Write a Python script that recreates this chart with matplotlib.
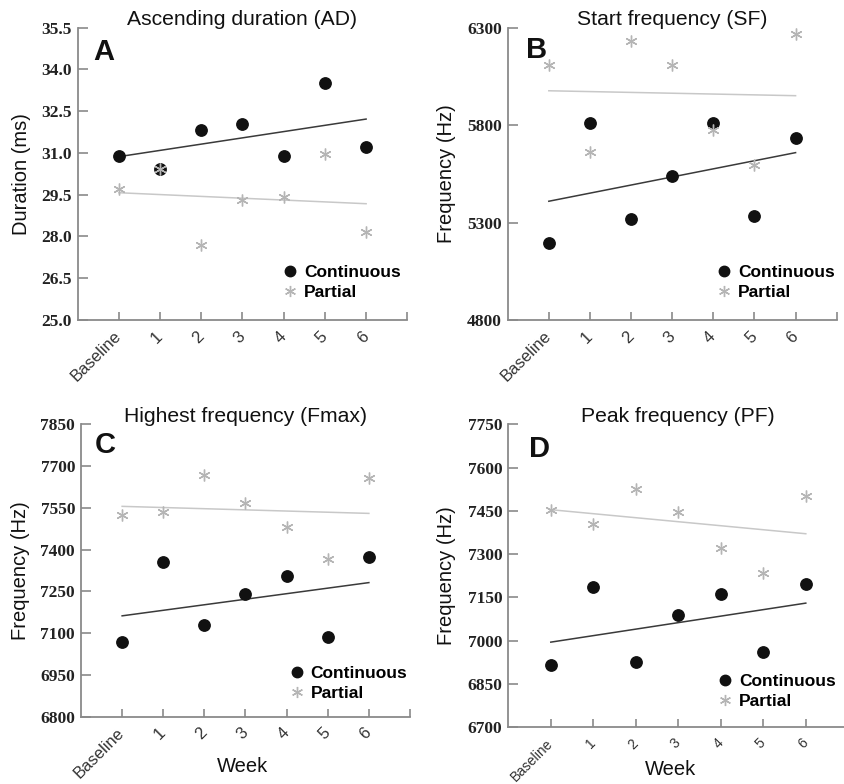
import numpy as np
import matplotlib
matplotlib.use("Agg")
import matplotlib.pyplot as plt
from matplotlib.lines import Line2D
from matplotlib.transforms import ScaledTranslation

plt.rcParams['font.family'] = ['Liberation Sans', 'DejaVu Sans']

weeks = np.arange(7)
week_labels = ['Baseline', '1', '2', '3', '4', '5', '6']

# Panel A: Ascending duration (ms)
ad_cont = [30.89, 30.42, 31.81, 32.04, 30.89, 33.52, 31.23]
ad_part = [29.69, 30.42, 27.69, 29.31, 29.41, 30.95, 28.15]
# Panel B: Start frequency (Hz)
sf_cont = [5193, 5809, 5318, 5539, 5813, 5335, 5732]
sf_part = [6107, 5664, 6232, 6107, 5775, 5595, 6266]
# Panel C: Highest frequency (Hz)
fmax_cont = [7067, 7354, 7129, 7239, 7305, 7087, 7372]
fmax_part = [7523, 7535, 7667, 7569, 7480, 7367, 7658]
# Panel D: Peak frequency (Hz)
pf_cont = [6916, 7185, 6928, 7089, 7162, 6962, 7197]
pf_part = [7453, 7403, 7525, 7445, 7323, 7236, 7502]

titles = ['Ascending duration (AD)', 'Start frequency (SF)',
          'Highest frequency (Fmax)', 'Peak frequency (PF)']
letters = ['A', 'B', 'C', 'D']
ylabels = ['Duration (ms)', 'Frequency (Hz)', 'Frequency (Hz)', 'Frequency (Hz)']
yticks_list = [np.arange(25.0, 35.51, 1.5), [4800, 5300, 5800, 6300],
               np.arange(6800, 7851, 150), np.arange(6700, 7751, 150)]
yfmt = ['{:.1f}', '{:d}', '{:d}', '{:d}']
conts = [ad_cont, sf_cont, fmax_cont, pf_cont]
parts = [ad_part, sf_part, fmax_part, pf_part]

W, H = 845, 784
fig = plt.figure(figsize=(W / 100, H / 100), dpi=100)

# pixel boxes: left, top, right, bottom
boxes = [(77.7, 27.7, 407.3, 320.0),
         (507.7, 27.7, 836.7, 320.0),
         (81.0, 424.3, 410.0, 716.7),
         (508.3, 424.3, 848.3, 727.3)]
letter_pos = [(0.046, 0.889), (0.056, 0.895), (0.043, 0.901), (0.062, 0.893)]
ylab_x = [-0.155, -0.168, -0.167, -0.166]
leg_pos = [(0.618, 0.127), (0.631, 0.127), (0.629, 0.114), (0.612, 0.119)]
week_pos = [None, None, (0.49, -0.189), (0.476, -0.157)]
xtick_size = [12, 12, 12, 10]
xtick_shift = [11, 11, 11, 9]

spine_col = '#8a8a8a'
cont_col = '#111111'
part_col = '#b5b5b5'
asterisk = (6, 2, 0)

for i in range(4):
    l, t, r, b = boxes[i]
    ax = fig.add_axes([l / W, 1 - b / H, (r - l) / W, (b - t) / H])
    yt = yticks_list[i]
    c = np.array(conts[i], dtype=float)
    p = np.array(parts[i], dtype=float)

    # regression lines
    for vals, col in ((c, '#3a3a3a'), (p, '#c8c8c8')):
        k, b0 = np.polyfit(weeks, vals, 1)
        ax.plot([weeks[0], weeks[-1]], [b0 + k * weeks[0], b0 + k * weeks[-1]],
                color=col, lw=1.1, zorder=2)

    ax.plot(weeks, c, 'o', color=cont_col, ms=8.2, zorder=3)
    ax.plot(weeks, p, linestyle='none', marker=asterisk, color=part_col,
            ms=8.5, mew=1.0, zorder=4)

    ax.set_xlim(-1, 7)
    ax.set_ylim(yt[0], yt[-1])
    ax.set_yticks(yt)
    ax.set_yticklabels([yfmt[i].format(v if i == 0 else int(v)) for v in yt],
                       family='Liberation Serif', weight='bold', fontsize=12.5,
                       color='#222222')
    ax.set_xticks(np.arange(8))
    ax.set_xticklabels(week_labels + [''], rotation=45, ha='right',
                       rotation_mode='anchor', va='center', fontsize=xtick_size[i],
                       color='#333333')
    off = ScaledTranslation(xtick_shift[i] / 100, 0, fig.dpi_scale_trans)
    for lab in ax.get_xticklabels():
        lab.set_transform(lab.get_transform() + off)

    for s in ('top', 'right'):
        ax.spines[s].set_visible(False)
    for s in ('left', 'bottom'):
        ax.spines[s].set_color(spine_col)
        ax.spines[s].set_linewidth(1.3)
    ax.tick_params(axis='y', direction='in', length=7, width=1.2,
                   color=spine_col, pad=4.3)
    ax.tick_params(axis='x', direction='in', length=6, width=1.2,
                   color=spine_col, pad=10)

    ax.text(0.5, 1.009, titles[i], transform=ax.transAxes, ha='center',
            va='baseline', fontsize=15.2, color='#111111')
    ax.text(letter_pos[i][0], letter_pos[i][1], letters[i], transform=ax.transAxes,
            ha='left', va='baseline', fontsize=21, fontweight='bold', color='#111111')
    ax.text(ylab_x[i], 0.5, ylabels[i], transform=ax.transAxes, rotation=90,
            rotation_mode='anchor', ha='center', va='baseline', fontsize=14.5,
            color='#111111')
    if week_pos[i] is not None:
        ax.text(week_pos[i][0], week_pos[i][1], 'Week', transform=ax.transAxes,
                ha='center', va='baseline', fontsize=14.5, color='#111111')

    handles = [Line2D([], [], linestyle='none', marker='o', color=cont_col, ms=7.5),
               Line2D([], [], linestyle='none', marker=asterisk, color=part_col,
                      ms=8, mew=1.0)]
    ax.legend(handles, ['Continuous', 'Partial'], loc='center left',
              bbox_to_anchor=leg_pos[i], borderpad=0, borderaxespad=0,
              handlelength=1.0, handletextpad=0.3, labelspacing=0.28,
              frameon=False, prop={'weight': 'bold', 'size': 12.5})

fig.savefig('out.png', dpi=100)
